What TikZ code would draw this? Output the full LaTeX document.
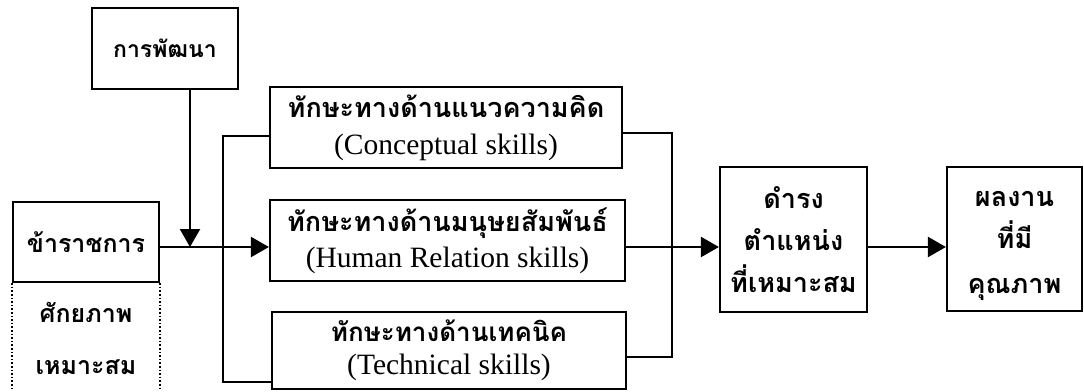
\documentclass[tikz,border=0pt]{standalone}
\usepackage{fontspec}
\setmainfont{Liberation Serif}
\newfontfamily\thaifont[Script=Thai]{Loma}
\usetikzlibrary{arrows.meta}
% English second lines inside the boxes
\newcommand\engline[1]{{\rmfamily\mdseries\fontsize{29.5}{29.5}\selectfont #1}}
\newcommand\thsize[2]{\thaifont\bfseries\fontsize{#1}{#2}\selectfont}
\tikzset{
  box/.style={draw, line width=2.2pt, inner sep=0pt, align=center,
    font=\thsize{25}{42}},
  link/.style={line width=2.2pt},
  arrow/.style={link, -{Triangle[length=18pt,width=20pt]}},
  softedge/.style={line width=1.6pt, dotted},
}
\begin{document}
\begin{tikzpicture}[x=1pt,y=-1pt]
\useasboundingbox (0,0) rectangle (1084,391);
% junction points of the connectors
\coordinate (j) at (190,247);
\coordinate (lt) at (223,136);
\coordinate (lb) at (223,382);
\coordinate (rt) at (672,133);
\coordinate (rb) at (672,357);
\coordinate (floor) at (0,391);
% boxes
\node[box, font=\thsize{23}{40}, minimum width=146pt, minimum height=81pt] (dev) at (165,48.5) {การพัฒนา};
\node[box, minimum width=146pt, minimum height=80pt] (civ) at (86,242) {ข้าราชการ};
\node[box, draw=none, minimum width=146pt, minimum height=100pt] (pot) at (86,338) {ศักยภาพ\\[10pt]เหมาะสม};
\node[box, font=\thsize{27}{40}, minimum width=352pt, minimum height=81pt] (conc) at (446,127.5)
  {ทักษะทางด้านแนวความคิด\\[-3pt]\engline{(Conceptual skills)}};
\node[box, font=\thsize{27}{40}, minimum width=355pt, minimum height=81pt] (human) at (447.5,240.5)
  {ทักษะทางด้านมนุษยสัมพันธ์\\[-4pt]\engline{(Human Relation skills)}};
\node[box, font=\thsize{26}{40}, minimum width=354pt, minimum height=77pt] (tech) at (449,350.5)
  {ทักษะทางด้านเทคนิค\\[-7pt]\engline{(Technical skills)}};
\node[box, font=\thsize{27}{42}, minimum width=147pt, minimum height=145pt] (hold) at (793.5,239.5)
  {ดำรง\\ตำแหน่ง\\ที่เหมาะสม};
\node[box, font=\thsize{27}{42}, minimum width=135pt, minimum height=144pt] (result) at (1014.5,239)
  {\rule{0pt}{30pt}ผลงาน\\[0pt]ที่มี\\[3pt]คุณภาพ};
% dotted sides of the lower box
\draw[softedge] (civ.south west) -- (civ.south west |- floor);
\draw[softedge] (civ.south east) -- (civ.south east |- floor);
% connectors
\draw[arrow] (j |- dev.south) -- (j);
\draw[arrow] (civ.east |- j) -- (human.west |- j);
\draw[link] (conc.west |- lt) -- (lt) -- (lb) -- (tech.west |- lb);
\draw[link] (conc.east |- rt) -- (rt) -- (rb) -- (tech.east |- rb);
\draw[arrow] (human.east |- j) -- (hold.west |- j);
\draw[arrow] (hold.east |- j) -- (result.west |- j);
\end{tikzpicture}
\end{document}
